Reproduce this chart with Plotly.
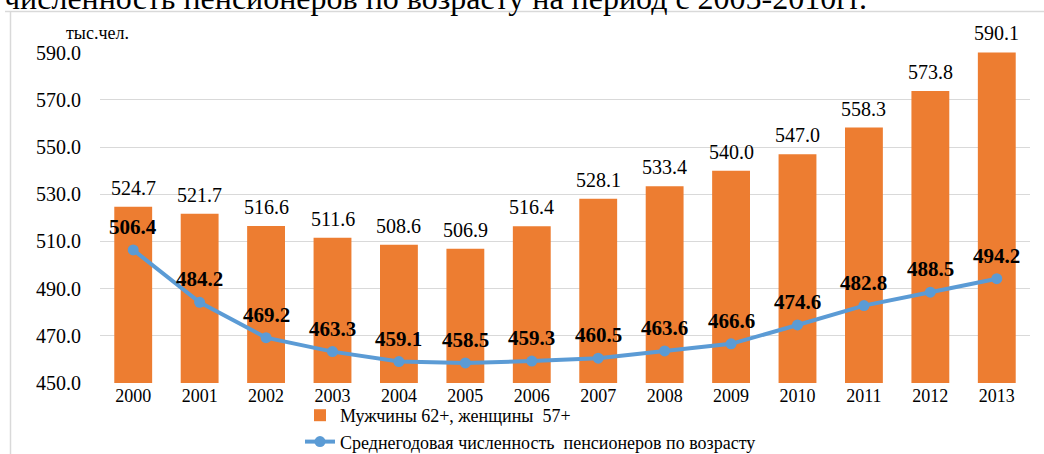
import plotly.graph_objects as go

years = ["2000", "2001", "2002", "2003", "2004", "2005", "2006", "2007",
         "2008", "2009", "2010", "2011", "2012", "2013"]
pensioners_age = [524.7, 521.7, 516.6, 511.6, 508.6, 506.9, 516.4, 528.1,
                  533.4, 540.0, 547.0, 558.3, 573.8, 590.1]
avg_pensioners = [506.4, 484.2, 469.2, 463.3, 459.1, 458.5, 459.3, 460.5,
                  463.6, 466.6, 474.6, 482.8, 488.5, 494.2]
y_ticks = [450, 470, 490, 510, 530, 550, 570, 590]

bar_name = "Мужчины 62+, женщины  57+"
line_name = "Среднегодовая численность  пенсионеров по возрасту"
unit_label = "тыс.чел."
cut_title = "численность пенсионеров по возрасту на период с 2005-2010гг."

FONT = "Liberation Serif, Times New Roman, serif"
ORANGE = "#ED7D31"
BLUE = "#5B9BD5"

L, R, T, B = 100, 14, 52, 71
W, H = 1044, 454
PH = H - T - B
PW = W - L - R

def px_x(p):
    return (p - L) / PW

def px_y(p):
    return (H - B - p) / PH

fig = go.Figure()
fig.add_trace(go.Bar(
    x=years, y=pensioners_age, name=bar_name,
    marker=dict(color=ORANGE, line=dict(width=0)),
))
fig.add_trace(go.Scatter(
    x=years, y=avg_pensioners, name=line_name, mode="lines+markers",
    line=dict(color=BLUE, width=4),
    marker=dict(color=BLUE, size=11),
))

annotations = []
for i, v in enumerate(pensioners_age):
    annotations.append(dict(x=i, y=v, xref="x", yref="y", text=f"{v:.1f}",
                            showarrow=False, yanchor="middle", yshift=19,
                            font=dict(family=FONT, size=20, color="#000")))
for i, v in enumerate(avg_pensioners):
    annotations.append(dict(x=i, y=v, xref="x", yref="y", text=f"<b>{v:.1f}</b>",
                            showarrow=False, yanchor="middle", yshift=23,
                            font=dict(family=FONT, size=21, color="#000")))
annotations.append(dict(x=px_x(97), y=px_y(33), xref="paper", yref="paper",
                        text=unit_label, showarrow=False,
                        xanchor="center", yanchor="middle",
                        font=dict(family=FONT, size=18, color="#000")))
annotations.append(dict(x=px_x(2), y=px_y(18), xref="paper", yref="paper",
                        text=cut_title, showarrow=False,
                        xanchor="left", yanchor="bottom",
                        font=dict(family=FONT, size=32, color="#000")))

shapes = [
    dict(type="line", xref="paper", yref="paper", x0=px_x(5), x1=px_x(1044),
         y0=px_y(11.5), y1=px_y(11.5), line=dict(color="#D9D9D9", width=1.5)),
    dict(type="line", xref="paper", yref="paper", x0=px_x(10.5), x1=px_x(10.5),
         y0=px_y(11.5), y1=px_y(454), line=dict(color="#D9D9D9", width=1.5)),
]

fig.update_layout(
    width=W, height=H,
    margin=dict(l=L, r=R, t=T, b=B, autoexpand=False),
    paper_bgcolor="white", plot_bgcolor="white",
    bargap=0.43,
    font=dict(family=FONT, size=18, color="#000"),
    xaxis=dict(type="category", tickfont=dict(family=FONT, size=18, color="#000"),
               showgrid=False, showline=False, ticks="", ticklen=0,
               range=[-0.5, 13.5]),
    yaxis=dict(range=[450, 590.3], tickvals=y_ticks,
               ticktext=[f"{t:.1f}" for t in y_ticks],
               tickfont=dict(family=FONT, size=20, color="#000"),
               showgrid=True, gridcolor="#D9D9D9", gridwidth=1.3,
               zeroline=False, showline=False, ticks="", ticklabelstandoff=18),
    legend=dict(orientation="v", x=px_x(300), y=px_y(397), xanchor="left",
                yanchor="top", font=dict(family=FONT, size=18, color="#000"),
                bgcolor="rgba(0,0,0,0)", tracegroupgap=0, itemwidth=30),
    annotations=annotations,
    shapes=shapes,
    showlegend=True,
)

fig.write_html("out.html", config={"displayModeBar": False},
               post_script="document.body.style.margin='0';document.body.style.overflow='hidden';")
